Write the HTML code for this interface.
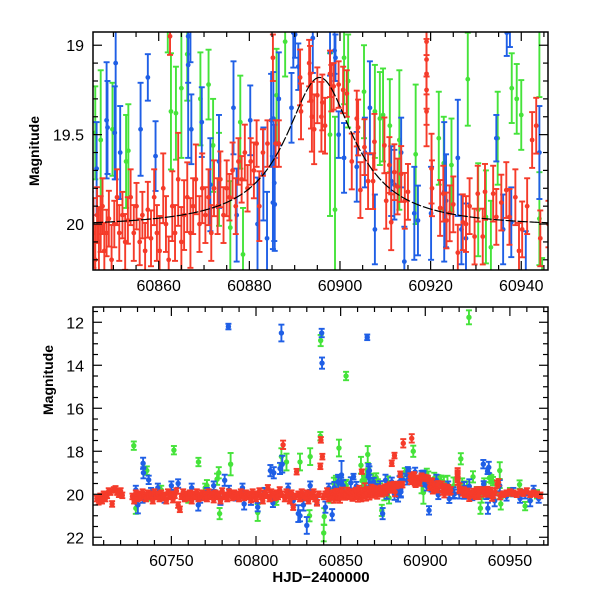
<!DOCTYPE html>
<html><head><meta charset="utf-8"><style>
html,body{margin:0;padding:0;background:#fff;}
svg{display:block;}
text{font-family:"Liberation Sans",sans-serif;fill:#000;}
</style></head><body>
<svg id="chart" width="600" height="600" viewBox="0 0 600 600" xmlns="http://www.w3.org/2000/svg">
<defs>
<clipPath id="clipTop"><rect x="93" y="32" width="455" height="238"/></clipPath>
<clipPath id="clipBot"><rect x="93" y="307" width="455" height="238"/></clipPath>
</defs>
<g id="top"></g>
<g id="bot"></g>
</svg>
<script>
// ---- data: [HJD-2400000, magnitude, error] ----
const redPts = [
[60706,20.2,.1],[60707,20.35,.1],[60708,20.1,.1],[60709,20.3,.1],[60710,20.0,.1],[60711,20.2,.1],[60712,20.05,.1],[60713,19.85,.1],[60714,19.9,.1],[60715,20.45,.1],[60716,19.8,.1],[60717,19.75,.1],[60718,19.9,.1],[60719,20.0,.1],[60720,19.85,.1],[60721,20.05,.1],
[60727,20.1,.1],[60728,20.3,.1],[60729,19.95,.1],[60730,20.2,.1],[60731,20.0,.1],[60732,20.15,.1],[60733,19.9,.1],[60734,20.05,.1],[60735,20.2,.1],[60736,19.95,.1],[60737,20.1,.1],[60738,20.0,.1],[60739,20.3,.1],[60740,19.9,.1],[60741,20.1,.1],[60742,20.0,.1],[60743,20.2,.1],[60744,19.95,.1],[60745,20.15,.1],[60746,20.05,.1],[60747,20.3,.1],[60748,19.9,.1],[60749,20.1,.1],[60750,20.0,.1],[60751,20.25,.1],[60752,20.05,.1],[60753,19.85,.1],[60754,20.5,.1],[60755,20.7,.1],[60756,20.1,.1],[60757,19.9,.1],[60758,20.2,.1],[60759,20.0,.1],[60760,20.15,.1],[60761,19.95,.1],[60762,20.3,.1],[60763,20.0,.1],[60764,20.1,.1],[60765,19.9,.1],[60766,20.2,.1],[60767,20.05,.1],[60768,19.95,.1],[60769,20.15,.1],[60770,20.0,.1],[60771,20.2,.1],[60772,19.9,.1],[60773,20.1,.1],[60774,20.0,.1],[60775,20.25,.1],[60776,19.95,.1],[60777,20.1,.1],[60778,20.0,.1],[60779,20.3,.1],[60780,19.85,.1],[60781,20.1,.1],[60782,20.05,.1],[60783,20.2,.1],[60784,19.9,.1],[60785,20.0,.1],[60786,20.15,.1],[60787,19.95,.1],[60788,20.1,.1],[60789,20.0,.1],[60790,20.2,.1],[60791,19.9,.1],[60792,20.05,.1],[60793,20.15,.1],[60794,19.95,.1],[60795,20.1,.1],[60796,20.0,.1],[60797,20.25,.1],[60798,19.9,.1],[60799,20.05,.1],[60800,20.2,.1],[60801,20.0,.1],[60802,19.85,.1],[60803,20.1,.1],[60804,20.3,.1],[60805,19.95,.1],[60806,20.05,.1],[60807,19.7,.1],[60808,20.2,.1],[60809,19.9,.1],[60810,20.0,.1],[60811,20.15,.1],[60812,19.95,.1],[60813,20.1,.1],[60814,19.8,.1],[60815,20.0,.1],[60816,17.7,.15],[60817,20.2,.1],[60818,19.9,.1],[60819,20.05,.1],[60820,20.3,.1],[60821,19.95,.1],[60822,20.6,.1],[60823,20.1,.1],[60824,18.95,.1],[60825,20.0,.1],[60826,20.2,.1],[60827,19.9,.1],[60828,20.05,.1],[60829,20.15,.1],[60830,19.95,.1],[60831,20.3,.1],[60832,20.0,.1],[60833,20.1,.1],[60834,19.9,.1],[60835,20.2,.1],[60836,20.4,.1],[60837,20.0,.1],[60838.3,17.47,.1],[60839.2,18.25,.1],[60838,18.7,.1],[60840,20.1,.1],[60841,20.0,.1],[60842,19.85,.1],[60843,20.2,.1],[60844,20.05,.1],[60845,19.95,.1],
[60845.6,20.05,.15],[60846.0,20.2,.15],[60846.4,19.95,.12],[60846.8,20.1,.15],[60847.2,20.0,.12],[60847.6,19.9,.12],[60848.0,20.15,.12],[60848.5,20.05,.1],[60849.0,19.97,.12],[60849.6,20.2,.15],[60850.2,20.0,.1],[60850.8,19.85,.12],[60851.3,20.05,.12],[60852.0,19.95,.1],[60852.6,20.1,.12],[60853.2,19.98,.1],[60853.8,19.85,.12],[60854.5,20.05,.12],[60855.1,19.9,.1],[60855.8,20.1,.1],[60856.4,19.95,.1],[60857.0,20.15,.12],[60857.6,19.92,.12],[60858.3,20.08,.12],[60859.0,19.85,.12],[60859.6,20.05,.12],[60860.2,20.15,.15],[60861.0,19.8,.15],[60861.6,20.0,.12],[60862.2,20.2,.1],[60862.5,18.95,.08],[60863.0,19.9,.15],[60863.6,20.05,.12],[60864.3,19.75,.2],[60865.0,20.1,.15],[60865.6,19.95,.15],[60866.3,19.85,.15],[60867.0,20.05,.15],[60867.6,19.9,.12],[60868.2,19.75,.15],[60869.0,20.0,.12],[60869.6,19.8,.15],[60870.3,19.95,.12],[60871.0,19.85,.12],[60871.6,20.05,.12],[60872.2,19.8,.12],[60873.0,19.9,.12],[60873.6,19.75,.12],[60874.3,19.95,.12],[60875.0,19.8,.12],[60875.6,19.85,.1],[60876.3,19.7,.12],[60877.0,19.9,.12],[60877.6,19.65,.1],[60878.3,19.75,.1],[60879.0,19.6,.12],[60879.6,19.8,.1],[60880.3,19.65,.1],[60881.0,19.7,.12],[60881.6,19.55,.1],[60882.2,19.9,.15],[60883.0,19.6,.1],[60884.0,19.55,.1],[60885.2,19.07,.1],[60885.8,19.55,.1],[60886.5,19.55,.1],
[60880.2,18.56,.1],[60881.8,18.2,.1],[60887,17.63,.15],[60892,17.4,.15],
[60891.2,19.18,.12],[60891.4,19.37,.12],[60893.2,19.10,.1],[60893.4,19.16,.12],[60893.6,19.31,.12],[60893.8,19.4,.15],[60894.3,19.47,.15],[60895,19.28,.12],[60895.9,19.4,.15],[60896.1,19.32,.12],[60896.7,19.45,.12],[60897.8,19.16,.1],[60898.1,19.24,.1],[60898.6,19.23,.1],[60899.7,19.22,.1],[60900.7,19.25,.1],[60901.5,19.27,.1],[60902.6,19.65,.12],[60903.7,19.41,.12],[60904.0,19.46,.12],[60904.5,19.81,.12],[60905.4,19.57,.12],[60906.2,19.76,.12],[60907.3,19.76,.12],[60907.6,19.54,.12],[60909.8,19.56,.12],[60910.2,19.87,.12],[60910.9,19.67,.12],[60911.3,19.99,.12],[60912,19.71,.12],[60912.7,19.79,.12],[60913.5,19.72,.12],[60914.3,19.87,.12],[60915,19.82,.12],[60919.1,18.98,.15],[60919.1,19.08,.15],[60919.1,19.16,.15],[60919.1,19.25,.15],[60919.1,19.37,.15],[60920.2,19.69,.15],[60920.3,19.8,.12],[60922.1,19.91,.12],[60922.8,19.83,.12],[60923.5,19.98,.12],[60924.2,19.94,.12],[60925,19.89,.12],[60926,20.16,.12],[60927.1,19.99,.12],[60927.8,20.0,.12],[60928.6,19.9,.12],[60929.7,20.07,.12],[60930.4,19.83,.12],[60931.5,20.07,.12],[60932,19.82,.12],[60933.8,19.83,.12],[60934.5,19.96,.12],[60935.6,19.88,.12],[60936.7,19.81,.12],[60937.4,19.96,.12],[60938.7,19.85,.12],[60939.5,20.15,.12],[60940.2,20.03,.12],[60941.3,19.9,.12],[60942.4,19.53,.12],[60943.3,19.45,.12],[60944.2,20.08,.12],
[60946,20.0,.1],[60948,19.95,.1],[60950,19.9,.1],[60952,19.95,.1],[60954,20.0,.1],[60956,19.9,.1],[60958,19.95,.1],[60960,19.85,.1],[60962,20.0,.1],[60964,19.95,.1],[60966,20.0,.1],[60968,20.05,.1]
];
const bluePts = [
[60783.7,12.2,.1],[60815,12.5,.3],[60838.8,12.5,.15],[60839.0,13.9,.2],[60865.7,12.7,.1],[60934.3,18.6,.15],[60937.5,18.75,.2],
[60733.3,18.56,.2],[60733.5,19.0,.2],[60736.6,19.33,.15],[60730,20.27,.15],[60730.2,20.5,.3],[60765.9,20.5,.2],[60781.5,19.35,.2],[60793,20.45,.2],[60808.5,18.9,.2],[60810.5,19.0,.2],[60815.5,18.6,.3],[60814.2,18.8,.2],[60825,20.9,.3],[60826,21.0,.2],[60830,21.45,.3],[60828,20.5,.2],[60841,20.6,.2],[60845,20.95,.2],[60867,18.9,.15],[60866.5,18.95,.2],[60874.8,20.9,.2],[60902.2,20.75,.15],[60937,20.65,.2],[60941,20.3,.2],[60944,19.6,.2],[60959,20.0,.15],[60962,20.3,.2],
[60729,19.8,.15],[60733,20.2,.15],[60738,19.9,.15],[60742,19.7,.15],[60746,20.2,.15],[60750,19.6,.15],[60754,19.5,.15],[60758,20.1,.15],[60762,19.7,.15],[60767,20.2,.15],[60771,19.9,.15],[60775,19.6,.15],[60779,20.3,.15],[60784,19.8,.15],[60788,20.1,.15],[60792,19.7,.15],[60797,20.3,.15],[60801,20.6,.15],[60805,19.9,.15],[60810,20.4,.15],[60819,19.7,.15],[60822,20.3,.15],[60828,20.1,.15],[60832,19.6,.15],[60836,20.3,.15],[60843,19.7,.15],
[60846.3,19.69,.2],[60848.5,19.42,.25],[60848.7,19.46,.2],[60850.3,19.49,.2],[60850.5,19.1,.5],[60851.5,19.6,.2],[60856,19.47,.2],[60857.6,19.18,.1],[60859.3,19.62,.15],[60866.5,19.11,.4],[60867.2,19.47,.15],[60869.5,19.43,.15],[60871.4,19.78,.2],[60873.3,19.65,.2],[60876.5,19.35,.2],[60877.2,19.95,.2],[60880.2,19.42,.15],[60881.8,20.0,.2],[60883.1,19.72,.2],[60884.8,19.42,.2],[60885.2,19.88,.2],[60883.9,20.08,.2],[60889.7,18.93,.15],[60890.8,19.12,.1],
[60885.3,19.41,.2],[60885.5,19.77,.25],[60885.6,19.89,.2],[60890.1,18.94,.1],[60889.3,19.35,.15],[60886.5,19.3,.2],[60894,18.96,.15],[60897.8,19.04,.1],[60898.8,19.03,.1],[60899,19.07,.1],[60899.7,19.5,.1],[60900.9,19.63,.15],[60903.7,19.68,.15],[60905.5,19.6,.15],[60906.6,19.35,.2],[60907.7,20.03,.15],[60911.3,19.76,.15],[60912,19.78,.15],[60913.5,19.6,.15],[60914.2,20.21,.15],[60916.4,19.94,.2],[60917.2,19.98,.15],[60920.1,19.94,.2],[60923,19.82,.3],[60923.4,19.87,.2],[60926,19.63,.25],[60926.8,20.03,.15],[60927.8,20.08,.15],[60934.5,19.52,.1],[60936,20.03,.15],[60937.8,19.99,.15],[60936.8,18.93,.1],
[60948,20.1,.15],[60952,19.9,.15],[60956,20.2,.15],[60964,19.8,.15],[60967,20.2,.15]
];
const greenPts = [
[60727.8,17.74,.15],[60751.5,17.95,.15],[60766,18.5,.15],[60785,18.6,.4],[60778,19.0,.2],[60777,19.3,.2],[60771,19.6,.2],[60735.5,18.9,.15],[60815,18.25,.3],[60826,18.5,.3],[60729,20.65,.2],[60778.5,20.9,.2],[60801,20.85,.3],
[60838.2,12.85,.2],[60853.2,14.5,.15],[60925.8,11.77,.25],[60838,17.3,.15],[60849,17.85,.3],[60832,18.25,.3],[60818,18.5,.3],[60866,18.15,.3],[60862,18.65,.3],[60921,18.35,.2],[60892.9,18.0,.2],[60944,18.9,.3],[60955.7,19.55,.15],[60840,21.8,.3],[60840.3,21.04,.3],[60959,20.55,.15],[60932.6,20.65,.2],[60944.6,20.45,.2],[60831.6,21.0,.2],[60874.3,20.75,.2],
[60738,20.1,.15],[60744,19.8,.15],[60760,20.2,.15],[60770,19.7,.15],[60790,20.1,.15],[60805,19.9,.15],[60812,20.3,.15],[60844,20.2,.15],[60950,19.9,.15],[60962,20.1,.15],[60966,20.0,.15],
[60846,19.49,.2],[60847.2,19.53,.3],[60849.8,19.47,.2],[60852.8,19.65,.2],[60853.3,19.59,.2],[60862.7,19.37,.25],[60863.8,19.38,.2],[60865,19.24,.3],[60866.3,19.05,.2],[60869.2,19.3,.2],[60871,19.22,.15],[60872,19.56,.2],[60873.3,19.75,.2],[60878,19.43,.2],[60875.8,20.02,.2],[60878.6,20.17,.2],[60886,19.28,.2],[60887.9,18.98,.15],
[60897.8,19.5,.35],[60898.9,19.92,.4],[60900.9,19.07,.2],[60901.8,19.2,.2],[60905.3,19.26,.2],[60907.7,19.37,.2],[60908.8,19.41,.2],[60909.5,19.39,.2],[60911,19.45,.2],[60913.1,19.53,.3],[60916.7,19.61,.3],[60921.8,19.52,.2],[60922.9,19.66,.2],[60924.6,19.67,.2],[60928.2,19.19,.2],[60930.5,19.92,.2],[60932.2,19.96,.2],[60933.3,20.13,.2],[60934.8,19.52,.2],[60937.9,19.24,.15],[60939,19.3,.15],[60940,19.39,.15],[60944,19.97,.2]
];
// model curve parameters: base magnitude, amplitude, peak time, width
const modelBase = [20.02];
const modelAmp = [0.84];
const modelPeak = [60895.5];
const modelWidth = [9.2];
// axis ticks
const topXTicks = [60860,60880,60900,60920,60940];
const topYTicks = [19,19.5,20];
const topYLabels = ["19","19.5","20"];
const botXTicks = [60750,60800,60850,60900,60950];
const botYTicks = [12,14,16,18,20,22];

const NS = "http://www.w3.org/2000/svg";
function mk(tag, attrs, parent){const e=document.createElementNS(NS,tag);for(const k in attrs)e.setAttribute(k,attrs[k]);parent.appendChild(e);return e;}
const colors = {red:"#f53b2a", blue:"#1f5fe6", green:"#45e33a"};

function panel(g, clipId, L, T, R, B, xmin, xmax, ymin, ymax, xMaj, xMin, yMaj, yMin, xTicks, yTicks, yLabels, r, cap, errScale, sw, showModel){
  const X = t => L + (t - xmin) / (xmax - xmin) * (R - L);
  const Y = m => T + (m - ymin) / (ymax - ymin) * (B - T);
  const data = mk("g",{"clip-path":"url(#"+clipId+")"},g);
  
  
  const series = [["green",greenPts],["blue",bluePts],["red",redPts]];
  for (const [c, pts] of series){
    const sg = mk("g",{stroke:colors[c],fill:colors[c],"stroke-width":sw},data);
    
    
    for (const p of pts){
      const e = p[2] * errScale;
      const x = X(p[0]), y = Y(p[1]), y1 = Y(p[1]-e), y2 = Y(p[1]+e);
      const pg = mk("g",{},sg);
      
      
      mk("line",{x1:x,x2:x,y1:y1,y2:y2},pg);
      mk("line",{x1:x-cap,x2:x+cap,y1:y1,y2:y1},pg);
      mk("line",{x1:x-cap,x2:x+cap,y1:y2,y2:y2},pg);
      mk("circle",{cx:x,cy:y,r:r,stroke:"none"},pg);
    }
  }
  if (showModel){
    let d = "";
    for (let i = 0; i <= 300; i++){
      const t = xmin + (xmax - xmin) * i / 300;
      const m = modelBase[0] - modelAmp[0] / (1 + Math.pow((t - modelPeak[0]) / modelWidth[0], 2));
      d += (i ? "L" : "M") + X(t).toFixed(2) + "," + Y(m).toFixed(2);
    }
    const path = mk("path",{d:d,fill:"none",stroke:"#000","stroke-width":1.2,"stroke-dasharray":"10,2"},data);
    
    
  }
  const frame = mk("rect",{x:L,y:T,width:R-L,height:B-T,fill:"none",stroke:"#000","stroke-width":1.5},g);
  
  
  const tk = mk("g",{stroke:"#000","stroke-width":1.2},g);
  
  
  const eps = 1e-6;
  for (let v = Math.ceil(xmin / xMin) * xMin; v <= xmax; v += xMin){
    const isMaj = Math.abs(v / xMaj - Math.round(v / xMaj)) < eps;
    const len = isMaj ? 9 : 5, x = X(v);
    mk("line",{x1:x,x2:x,y1:B,y2:B-len},tk);
    mk("line",{x1:x,x2:x,y1:T,y2:T+len},tk);
  }
  for (let v = Math.ceil(ymin / yMin - eps) * yMin; v <= ymax + eps; v += yMin){
    const isMaj = Math.abs(v / yMaj - Math.round(v / yMaj)) < 1e-4;
    const len = isMaj ? 9 : 5, y = Y(v);
    mk("line",{x1:L,x2:L+len,y1:y,y2:y},tk);
    mk("line",{x1:R,x2:R-len,y1:y,y2:y},tk);
  }
  for (const v of xTicks){
    const t = mk("text",{x:X(v),y:B+21,"text-anchor":"middle","font-size":16},g);
    t.textContent = v;
    
    
  }
  yTicks.forEach((v,i)=>{
    const t = mk("text",{x:L-9,y:Y(v)+6,"text-anchor":"end","font-size":16},g);
    t.textContent = yLabels[i];
    
    
  });
}

panel(document.getElementById("top"),"clipTop",93,32,548,270,60845.5,60945.9,18.926,20.257,20,5,0.5,0.1,topXTicks,topYTicks,topYLabels,2.4,3,1.3,1.9,true);
panel(document.getElementById("bot"),"clipBot",93,307,548,545,60703.7,60972.5,11.29,22.36,50,10,2,0.5,botXTicks,botYTicks,botYTicks.map(String),2.7,3,1.3,1.9,false);

const svg = document.getElementById("chart");
const y1 = mk("text",{x:0,y:0,"font-size":14,"font-weight":"bold","text-anchor":"middle",transform:"translate(39,151) rotate(-90)"},svg);
y1.textContent = "Magnitude";


const y2 = mk("text",{x:0,y:0,"font-size":14,"font-weight":"bold","text-anchor":"middle",transform:"translate(53,380) rotate(-90)"},svg);
y2.textContent = "Magnitude";


const xt = mk("text",{x:321,y:582,"font-size":15,"font-weight":"bold","text-anchor":"middle","font-family":"Liberation Serif, serif"},svg);
xt.textContent = "HJD\u22122400000";


</script>
</body></html>
